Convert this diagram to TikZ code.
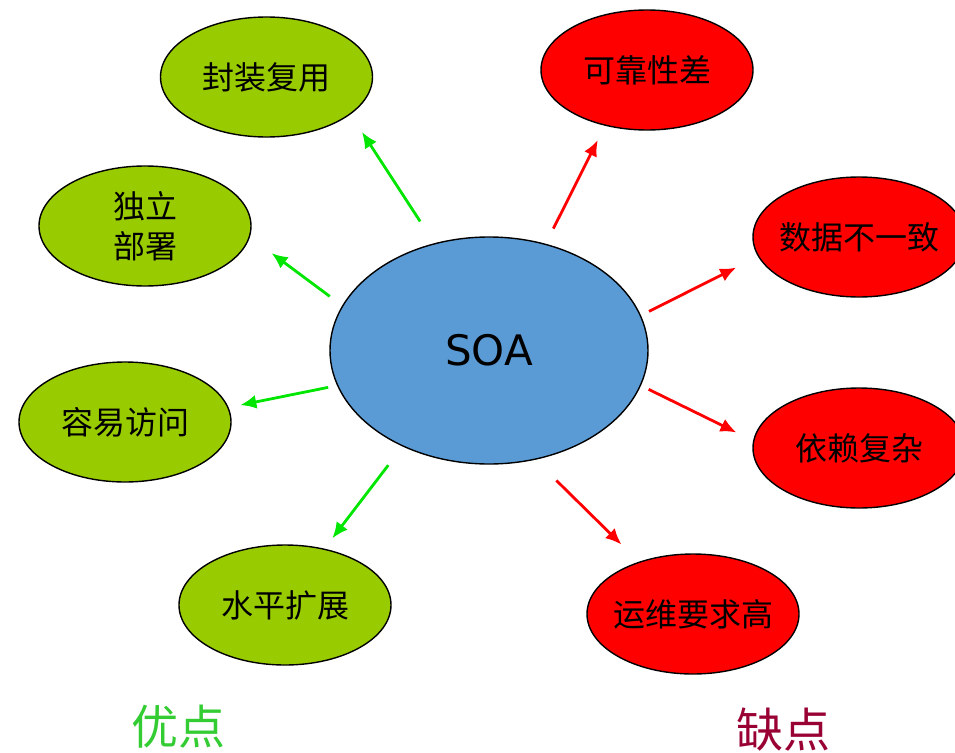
\documentclass[tikz,border=0pt]{standalone}
\usepackage{fontspec}
\setmainfont{DejaVu Sans}
\newfontfamily\cjk{Noto Sans CJK SC}
\usetikzlibrary{shapes.geometric,arrows.meta}
\definecolor{soablue}{HTML}{5B9BD5}
\definecolor{goodfill}{HTML}{99CC00}
\definecolor{badfill}{HTML}{FF0000}
\definecolor{goodline}{RGB}{0,230,0}
\definecolor{goodtext}{HTML}{33CC33}
\definecolor{badtext}{HTML}{990033}
\begin{document}
\begin{tikzpicture}[x=1pt,y=-1pt,
    bubble/.style={ellipse,draw=black,line width=1.4pt,minimum width=212pt,minimum height=120pt,
        inner xsep=-30pt,inner ysep=0pt,align=center,font=\cjk\fontsize{32}{40}\selectfont},
    good/.style={bubble,fill=goodfill},
    bad/.style={bubble,fill=badfill},
    plus/.style={-{Latex[length=16pt,width=14pt]},line width=2.8pt,goodline},
    minus/.style={-{Latex[length=16pt,width=14pt]},line width=2.8pt,badfill}]
        \useasboundingbox (0,0) rectangle (955,752);
        \clip (0,0) rectangle (955,752);

        \node[ellipse,draw=black,line width=1.4pt,fill=soablue,minimum width=318pt,minimum height=227pt,
            font=\fontsize{42}{50}\selectfont] (soa) at (489,350.5) {SOA};

        % pros
        \node[good] (fzfy) at (266.5,77) {封装复用};
        \node[good] (dlbs) at (145,226) {独立\\部署};
        \node[good] (ryfw) at (125,422) {容易访问};
        \node[good] (spkz) at (285,605) {水平扩展};

        % cons
        \node[bad] (kkx) at (647,70) {可靠性差};
        \node[bad] (sjbyz) at (859,237) {数据不一致};
        \node[bad] (ylfz) at (859,448) {依赖复杂};
        \node[bad] (ywyq) at (693,614) {运维要求高};

        \draw[plus,shorten <=26pt,shorten >=21pt] (soa.117.3) -- (fzfy.336);
        \draw[plus,shorten <=15.5pt,shorten >=27pt] (soa.163.2) -- (dlbs.354);
        \draw[plus,shorten <=9pt,shorten >=12pt] (soa.193.8) -- (ryfw.8.2);
        \draw[plus,shorten <=23.5pt,shorten >=13pt] (soa.228.7) -- (spkz.55.8);

        \draw[minus,shorten <=17pt,shorten >=16pt] (soa.62.1) -- (kkx.233.1);
        \draw[minus,shorten <=9pt,shorten >=24.5pt] (soa.13.3) -- (sjbyz.191.5);
        \draw[minus,shorten <=8.5pt,shorten >=18.5pt] (soa.347.1) -- (ylfz.176.3);
        \draw[minus,shorten <=29.5pt,shorten >=24.5pt] (soa.293.5) -- (ywyq.136.8);

        \node[goodtext,font=\cjk\fontsize{47}{54}\selectfont] (yd) at (178,727) {优点};
        \node[badtext,font=\cjk\fontsize{47}{54}\selectfont] (qd) at (783,730) {缺点};
\end{tikzpicture}
\end{document}
